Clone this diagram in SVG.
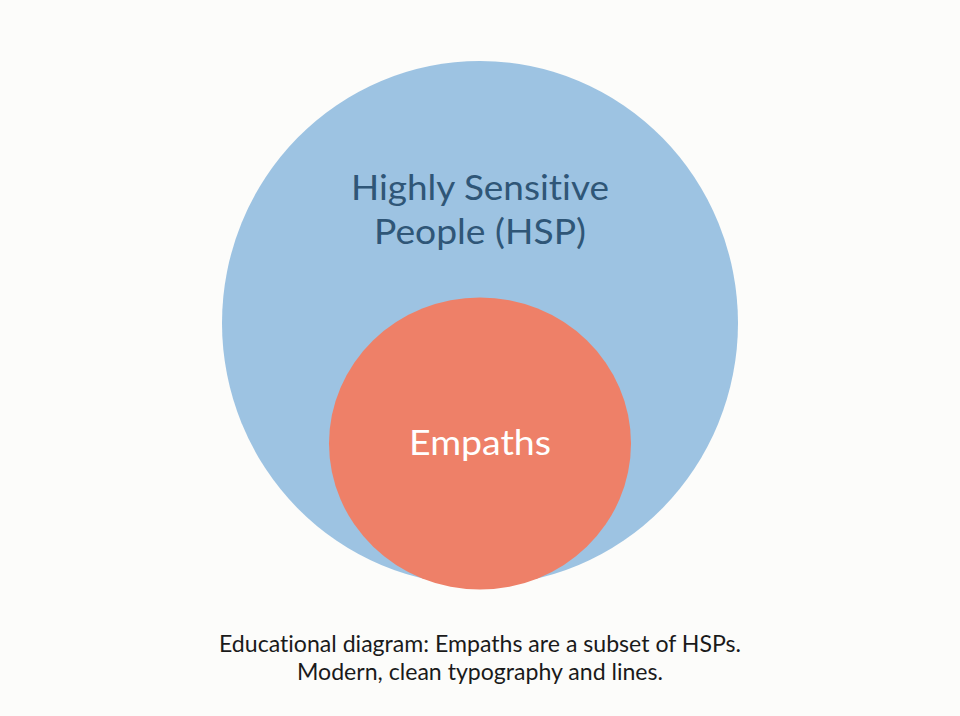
<svg xmlns="http://www.w3.org/2000/svg" width="960" height="716" viewBox="0 0 960 716">
<style>
.t{font-family:Lato,"Noto Sans","Liberation Sans",sans-serif;text-anchor:middle;font-variant-ligatures:none;font-weight:400}
.lbl{font-size:35px;fill:#2f5677}
.emp{font-size:35px;fill:#ffffff}
.cap{font-size:22.5px;fill:#1a1a1a}
</style>
<rect width="960" height="716" fill="#fcfcfa"/>
<g id="hsp">
<ellipse cx="480" cy="323" rx="258" ry="262" fill="#9dc3e2"/>
<text class="t lbl" x="480" y="200" textLength="258" lengthAdjust="spacingAndGlyphs">Highly Sensitive</text>
<text class="t lbl" x="480" y="244" textLength="212" lengthAdjust="spacingAndGlyphs">People (HSP)</text>
</g>
<g id="empaths">
<ellipse cx="480" cy="443.5" rx="151" ry="146" fill="#ee8068"/>
<text class="t emp" x="480" y="455" textLength="142" lengthAdjust="spacingAndGlyphs">Empaths</text>
</g>
<g id="connectors"/>
<g id="caption">
<text class="t cap" x="480" y="652" textLength="522" lengthAdjust="spacingAndGlyphs">Educational diagram: Empaths are a subset of HSPs.</text>
<text class="t cap" x="480" y="680" textLength="366" lengthAdjust="spacingAndGlyphs">Modern, clean typography and lines.</text>
</g>
</svg>
